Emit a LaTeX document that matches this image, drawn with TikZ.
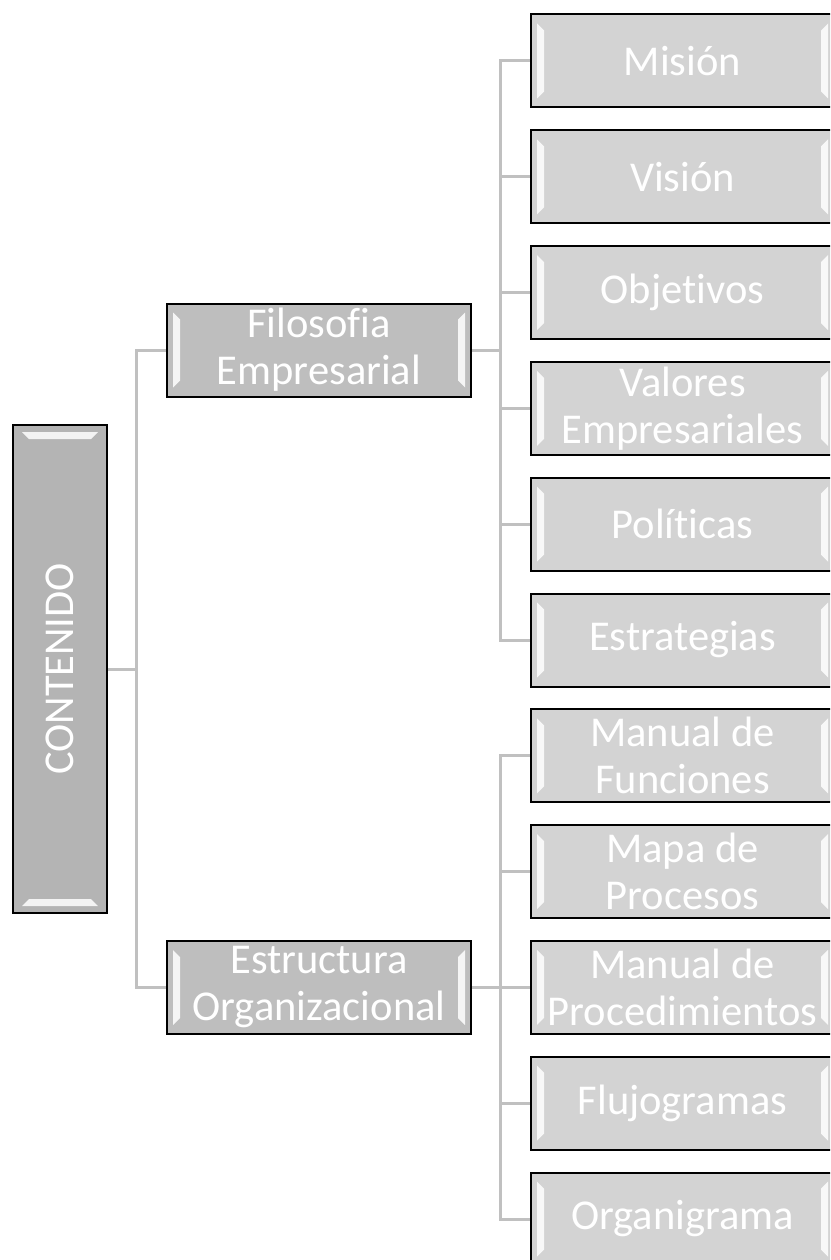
\documentclass[tikz,border=0pt]{standalone}
\usepackage{fontspec}
\setmainfont[RawFeature={-liga}]{Carlito}
\usepackage{graphicx}
\usetikzlibrary{positioning}

\definecolor{rootgray}{RGB}{180,180,180}
\definecolor{midgray}{RGB}{190,190,190}
\definecolor{leafgray}{RGB}{211,211,211}
\definecolor{linegray}{RGB}{192,192,192}

\tikzset{
  sidebevel/.style={path picture={
    \fill[white,opacity=.85]
      ([shift={(6,9)}]path picture bounding box.north west) -- ([shift={(13,16)}]path picture bounding box.north west)
      -- ([shift={(13,-16)}]path picture bounding box.south west) -- ([shift={(6,-9)}]path picture bounding box.south west) -- cycle;
    \fill[white,opacity=.85]
      ([shift={(-6,9)}]path picture bounding box.north east) -- ([shift={(-13,16)}]path picture bounding box.north east)
      -- ([shift={(-13,-16)}]path picture bounding box.south east) -- ([shift={(-6,-9)}]path picture bounding box.south east) -- cycle;
  }},
  endbevel/.style={path picture={
    \fill[white,opacity=.85]
      ([shift={(9,7)}]path picture bounding box.north west) -- ([shift={(-9,7)}]path picture bounding box.north east)
      -- ([shift={(-16,14)}]path picture bounding box.north east) -- ([shift={(16,14)}]path picture bounding box.north west) -- cycle;
    \fill[white,opacity=.85]
      ([shift={(9,-7)}]path picture bounding box.south west) -- ([shift={(-9,-7)}]path picture bounding box.south east)
      -- ([shift={(-16,-14)}]path picture bounding box.south east) -- ([shift={(16,-14)}]path picture bounding box.south west) -- cycle;
  }},
  box/.style={draw=black, line width=2pt, text=white, align=center, inner sep=0pt,
    font=\fontsize{42.5}{47}\selectfont},
  rootbox/.style={box, endbevel, fill=rootgray, minimum width=94pt, minimum height=488pt},
  branchbox/.style={box, sidebevel, fill=midgray, minimum width=304pt, minimum height=93pt},
  leafbox/.style={box, sidebevel, fill=leafgray, minimum width=303pt, minimum height=93pt},
  conn/.style={draw=linegray, line width=3pt}
}

\begin{document}
\begin{tikzpicture}[x=1pt,y=-1pt]
  \path[use as bounding box, clip] (0,0) rectangle (830,1260);
  \fill[white] (0,0) rectangle (830,1260);

  \node [rootbox] (contenido) at (60,669) {\rotatebox{90}{CONTENIDO}};
  \node [branchbox] (filosofia) at (319,350) {Filosofia\\Empresarial};
  \node [branchbox] (estructura) at (319,987.5) {Estructura\\Organizacional};

  \node [leafbox] (mision) at (682.5,61) {Misión};
  \node [leafbox] (vision) [below=20.8pt of mision] {Visión};
  \node [leafbox] (objetivos) [below=20.8pt of vision] {Objetivos};
  \node [leafbox] (valores) [below=20.8pt of objetivos] {Valores\\Empresariales};
  \node [leafbox] (politicas) [below=20.8pt of valores] {Políticas};
  \node [leafbox] (estrategias) [below=20.8pt of politicas] {Estrategias};
  \node [leafbox] (funciones) [below=20.8pt of estrategias] {Manual de\\Funciones};
  \node [leafbox] (procesos) [below=20.8pt of funciones] {Mapa de\\Procesos};
  \node [leafbox] (procedimientos) [below=20.8pt of procesos] {Manual de\\Procedimientos};
  \node [leafbox] (flujogramas) [below=20.8pt of procedimientos] {Flujogramas};
  \node [leafbox] (organigrama) [below=20.8pt of flujogramas] {Organigrama};

  \foreach \b in {filosofia,estructura}
    \draw[conn] (contenido.east) -- ++(28,0) |- (\b.west);
  \foreach \l in {mision,vision,objetivos,valores,politicas,estrategias}
    \draw[conn] (filosofia.east) -- ++(28,0) |- (\l.west);
  \foreach \l in {funciones,procesos,procedimientos,flujogramas,organigrama}
    \draw[conn] (estructura.east) -- ++(28,0) |- (\l.west);
\end{tikzpicture}
\end{document}
